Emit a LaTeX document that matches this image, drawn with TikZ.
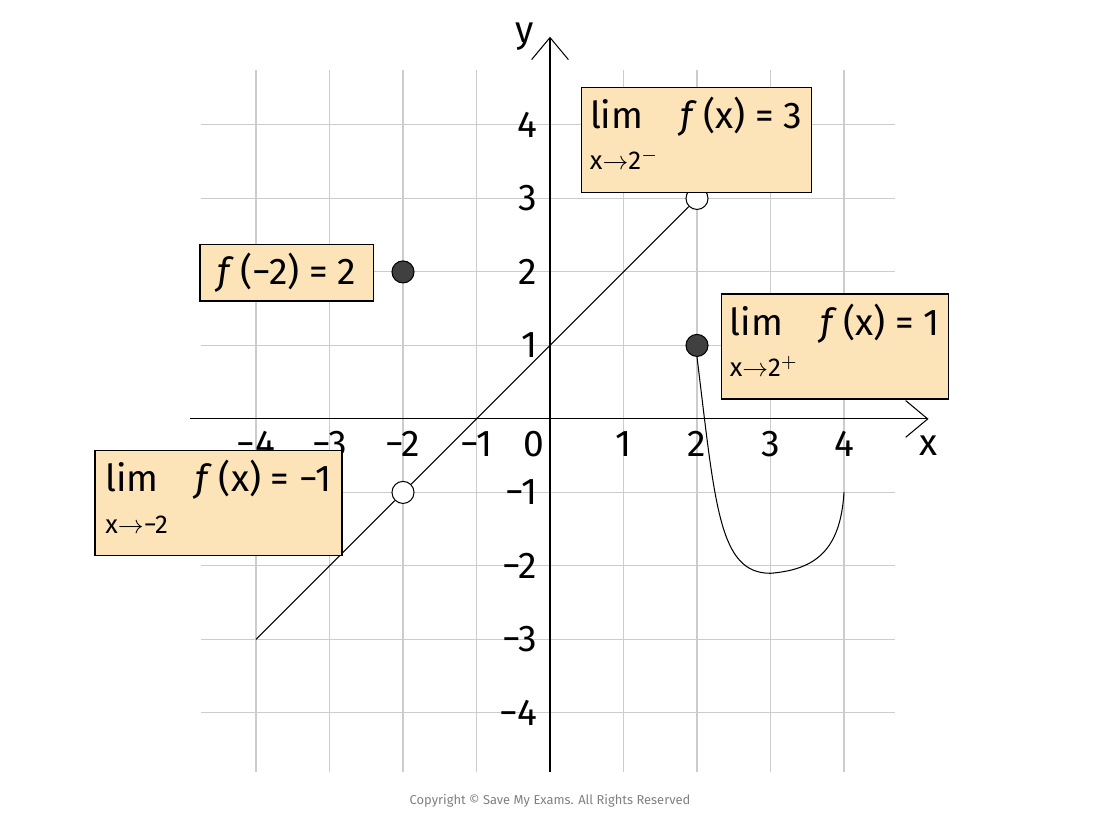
\documentclass[tikz,border=0pt]{standalone}
\usepackage{fontspec}
\setmainfont{Fira Sans}
\usetikzlibrary{arrows.meta}
\definecolor{boxfill}{HTML}{FDE3B8}
\newcommand{\limtext}[3]{\begin{tabular}{@{}l@{}}lim\quad\textit{f}\,(x) = #2\\[-2pt]{\normalsize x$\to$#1}\end{tabular}}
\begin{document}
\begin{tikzpicture}[x=1cm, y=1cm,
  labelbox/.style={draw, fill=boxfill, line width=0.5pt, minimum width=#1, align=left, font=\Large},
  ticklabel/.style={font=\Large},
  closedpt/.style={circle, draw, fill=black!75, inner sep=0pt, minimum size=3mm},
  openpt/.style={circle, draw, fill=white, inner sep=0pt, minimum size=3mm}]
  \useasboundingbox (-7.483,-5.497) rectangle (7.483,5.70);
  % grid
  \foreach \x in {-4,...,4} \draw[black!20] (\x,-4.8) -- (\x,4.75);
  \foreach \y in {-4,...,4} \draw[black!20] (-4.75,\y) -- (4.7,\y);
  % axes
  \draw[-{Straight Barb[length=3mm,width=5mm]}] (-4.9,0) -- (5.15,0) node (xl) [below=1mm] {\Large x};
  \draw[-{Straight Barb[length=3mm,width=5mm]}] (0,-4.8) -- (0,5.2) node (yl) [left=1mm] {\Large y};
  \foreach \x in {-4,-3,-2,-1} \node[below, ticklabel] at (\x,-0.05) {−\the\numexpr-\x\relax};
  \foreach \x in {1,2,3,4} \node[below, ticklabel] at (\x,-0.05) {\x};
  \node[below left, ticklabel] at (0.05,-0.05) {0};
  \foreach \y in {-4,-3,-2,-1} \node[left, ticklabel] at (-0.05,\y) {−\the\numexpr-\y\relax};
  \foreach \y in {1,2,3,4} \node[left, ticklabel] at (-0.05,\y) {\y};
  % graph
  \coordinate (a) at (-4,-3);
  \node[openpt] (p1) at (-2,-1) {};
  \node[openpt] (p2) at (2,3) {};
  \node[closedpt] (p3) at (-2,2) {};
  \node[closedpt] (p4) at (2,1) {};
  \draw (a) -- (p1);
  \draw (p1) -- (p2);
  \draw (p4.south) .. controls (2.25,-1.2) and (2.3,-2.1) .. (3,-2.1)
    .. controls (3.6,-2.05) and (3.95,-1.8) .. (4,-1);
  % labels
  \node[labelbox=2.36cm, minimum height=0.74cm] (b1) at (-3.58,1.99) {\textit{f}\,(−2) = 2};
  \node[labelbox=2.98cm, minimum height=1.09cm] (b2) at (1.99,3.795) {\limtext{2$^-$}{3}{}};
  \node[labelbox=2.99cm, minimum height=1.07cm] (b3) at (3.875,0.985) {\limtext{2$^+$}{1}{}};
  \node[labelbox=3.36cm, minimum height=1.09cm] (b4) at (-4.51,-1.145) {\limtext{−2}{−1}{}};
  \node[text=black!50, font=\tiny] (copy) at (0,-5.2) {Copyright © Save My Exams. All Rights Reserved};
\end{tikzpicture}
\end{document}
